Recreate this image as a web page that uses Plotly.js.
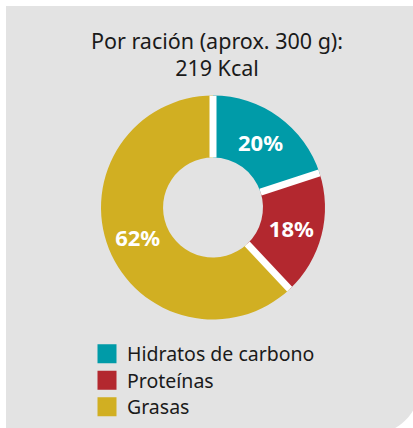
<!DOCTYPE html>
<html>
<head>
<meta charset="utf-8">
<script src="https://cdn.plot.ly/plotly-3.0.1.min.js"></script>
<style>
  html, body { margin: 0; padding: 0; background: #ffffff; width: 413px; height: 428px; overflow: hidden; }
  #panel { position: absolute; left: 6px; top: 6px; width: 414px; height: 429px; background: #e3e3e3; border-bottom-right-radius: 50px; }
  #chart { position: absolute; left: 0; top: 0; width: 413px; height: 428px; }
</style>
</head>
<body>
<div id="panel"></div>
<div id="chart"></div>
<script>
const labels = ['Hidratos de carbono', 'Proteínas', 'Grasas'];
const values = [20, 18, 62];
const colors = ['#009ba8', '#b3282f', '#d1af22'];
const titleText = 'Por ración (aprox. 300 g):<br>219 Kcal';

const W = 413, H = 428;
const cx = 213, cy = 207.5, R = 112;
const hole = 0.446;
const dom = {
  x: [(cx - R) / W, (cx + R) / W],
  y: [1 - (cy + R) / H, 1 - (cy - R) / H]
};

// white separator lines between slices, derived from the values
const total = values.reduce((a, b) => a + b, 0);
const shapes = [];
let cum = 0;
values.forEach(v => {
  const a = 2 * Math.PI * cum / total;
  shapes.push({
    type: 'line', xref: 'x', yref: 'y', layer: 'above',
    x0: hole * Math.sin(a), y0: hole * Math.cos(a),
    x1: 0.999 * Math.sin(a), y1: 0.999 * Math.cos(a),
    line: { color: '#ffffff', width: 7 }
  });
  cum += v;
});

const traces = [
  {
    type: 'pie',
    labels: labels,
    values: values,
    sort: false,
    direction: 'clockwise',
    rotation: 0,
    hole: hole,
    domain: dom,
    marker: { colors: colors, line: { width: 0 } },
    textinfo: 'percent',
    textposition: 'inside',
    insidetextorientation: 'horizontal',
    textfont: { family: 'Noto Sans', size: 22, color: '#ffffff', weight: 'bold' },
    showlegend: false,
    hoverinfo: 'label+percent'
  }
];

const legendNames = ['legend', 'legend2', 'legend3'];
const legendFont = { family: 'Noto Sans', size: 19.5, color: '#1a1a1a' };
const legendTops = [334.5, 361, 387.5];

labels.forEach((lab, i) => {
  traces.push({
    type: 'scatter',
    mode: 'markers',
    x: [null],
    y: [null],
    name: lab,
    legend: legendNames[i],
    marker: { symbol: 'square', size: 16, color: colors[i], line: { color: colors[i], width: 3 } },
    showlegend: true
  });
});

const layout = {
  width: W,
  height: H,
  margin: { l: 0, r: 0, t: 0, b: 0 },
  paper_bgcolor: 'rgba(0,0,0,0)',
  plot_bgcolor: 'rgba(0,0,0,0)',
  font: { family: 'Noto Sans', color: '#1a1a1a' },
  title: {
    text: titleText,
    font: { family: 'Noto Sans', size: 21.5, color: '#1a1a1a' },
    x: 217 / W,
    xanchor: 'center',
    xref: 'paper',
    y: 1 - 48.5 / H,
    yanchor: 'top',
    yref: 'container'
  },
  xaxis: { domain: dom.x, range: [-1, 1], visible: false, fixedrange: true },
  yaxis: { domain: dom.y, range: [-1, 1], visible: false, fixedrange: true },
  shapes: shapes,
  showlegend: true
};

legendNames.forEach((ln, i) => {
  layout[ln] = {
    x: 87 / W,
    xanchor: 'left',
    y: 1 - legendTops[i] / H,
    yanchor: 'top',
    bgcolor: 'rgba(0,0,0,0)',
    font: legendFont,
    itemclick: false,
    itemdoubleclick: false
  };
});

Plotly.newPlot('chart', traces, layout, { displayModeBar: false, staticPlot: true });
</script>
</body>
</html>
